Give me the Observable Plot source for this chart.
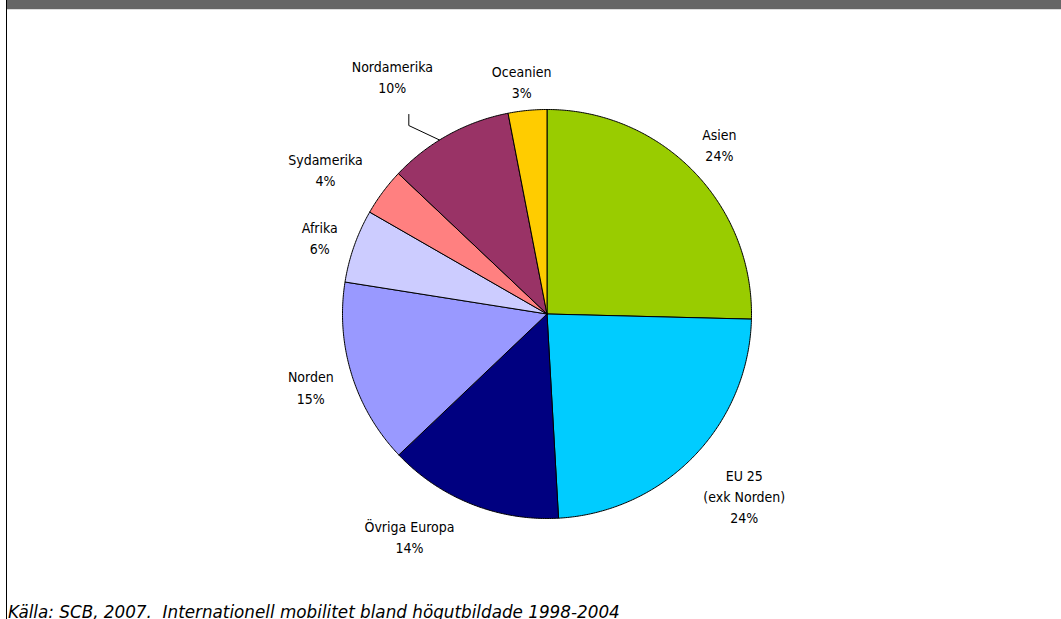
<!DOCTYPE html>
<html>
<head>
<meta charset="utf-8">
<script src="https://cdn.jsdelivr.net/npm/d3@7"></script>
<script src="https://cdn.jsdelivr.net/npm/@observablehq/plot@0.6"></script>
<style>
  html, body { margin: 0; padding: 0; background: #fff; }
  body { width: 1061px; height: 619px; position: relative; overflow: hidden; font-family: "DejaVu Sans", sans-serif; }
  #topbar { position: absolute; left: 7px; top: 0; width: 1054px; height: 9px; background: #666666; border-bottom: 1px solid #dddddd; }
  #leftline { position: absolute; left: 6px; top: 0; width: 1px; height: 619px; background: #000; }
  #chart { position: absolute; left: 0; top: 0; }
  #caption { position: absolute; left: 8px; top: 602px; font-family: "DejaVu Sans", sans-serif; font-size: 16.8px; font-style: italic; line-height: 20px; white-space: pre; color: #000; }
</style>
</head>
<body>
<div id="chart"></div>
<div id="topbar"></div>
<div id="leftline"></div>
<div id="caption">Källa: SCB, 2007.  Internationell mobilitet bland högutbildade 1998-2004</div>
<script>
// Regions, clockwise from 12 o'clock
const regions = ["Asien", "EU 25\n(exk Norden)", "Övriga Europa", "Norden", "Afrika", "Sydamerika", "Nordamerika", "Oceanien"];
// Shares as drawn (percent)
const shares = [25.4, 23.7, 13.8, 14.6, 5.8, 3.75, 9.9, 3.05];
// Percent labels as printed
const pctLabels = ["24%", "24%", "14%", "15%", "6%", "4%", "10%", "3%"];
const colors = ["#99CC00", "#00CCFF", "#000080", "#9999FF", "#CCCCFF", "#FF8080", "#993366", "#FFCC00"];

// Layout (label polar placement: angle deg clockwise from top, radius in px)
const R = 204.5;
const labelPolar = [[45.3, 242.5], [132.6, 268], [211.8, 261], [253, 247], [288.8, 240], [303.3, 265], [327, 284], [353.8, 235]];
const leaderPolar = [[325.3, 242.7], [323.75, 233.7], [328.3, 204.5]];

const total = d3.sum(shares);
const toXY = (deg, r) => { const a = deg * Math.PI / 180; return [Math.sin(a) * r, Math.cos(a) * r]; };

const slicePts = [];
let acc = 0;
regions.forEach((name, i) => {
  const a0 = acc / total * 360, a1 = (acc + shares[i]) / total * 360;
  acc += shares[i];
  const n = Math.max(2, Math.ceil((a1 - a0) / 0.5));
  slicePts.push({name, color: colors[i], x: 0, y: 0});
  for (let k = 0; k <= n; k++) {
    const [x, y] = toXY(a0 + (a1 - a0) * k / n, 1);
    slicePts.push({name, color: colors[i], x, y});
  }
  slicePts.push({name, color: colors[i], x: 0, y: 0});
});

const labels = regions.map((name, i) => {
  const [x, y] = toXY(labelPolar[i][0], labelPolar[i][1] / R);
  return {text: name + "\n" + pctLabels[i], x, y};
});
const leader = leaderPolar.map(([a, r]) => { const [x, y] = toXY(a, r / R); return {x, y}; });

const W = 1061, H = 619, cx = 546.5, cy = 313.5;
const plot = Plot.plot({
  width: W, height: H,
  marginLeft: cx - R, marginRight: W - (cx + R),
  marginTop: cy - R, marginBottom: H - (cy + R),
  x: {domain: [-1, 1], axis: null},
  y: {domain: [-1, 1], axis: null},
  color: {type: "identity"},
  style: {background: "transparent", overflow: "visible"},
  marks: [
    Plot.line(slicePts, {x: "x", y: "y", z: "name", fill: "color", stroke: "#000", strokeWidth: 1, strokeLinejoin: "round"}),
    Plot.line(leader, {x: "x", y: "y", stroke: "#000", strokeWidth: 1}),
    Plot.text(labels, {x: "x", y: "y", text: "text", fontFamily: "DejaVu Sans Condensed", fontSize: 14, lineHeight: 1.52, fill: "#000"})
  ]
});
document.getElementById("chart").appendChild(plot);
</script>
</body>
</html>
